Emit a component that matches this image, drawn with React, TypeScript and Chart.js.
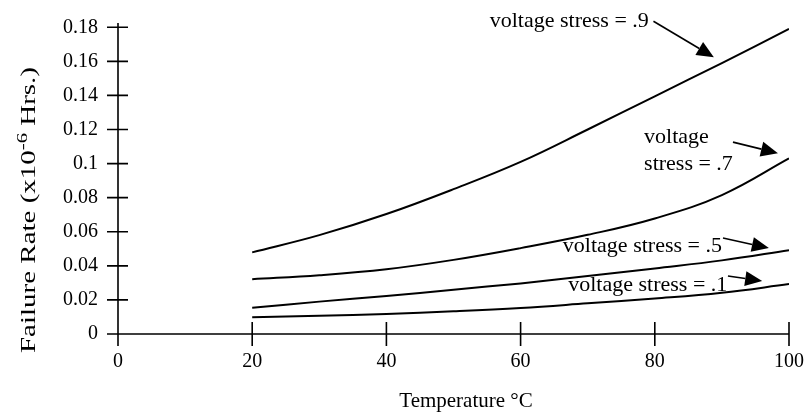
import React, { useEffect, useRef } from 'react';
import { Chart, registerables } from 'chart.js';

Chart.register(...registerables);

// ---- data ----
const temperatures = [20, 30, 40, 50, 60, 70, 80, 90, 100];
const stress09 = [0.0479, 0.058, 0.0704, 0.085, 0.101, 0.12, 0.1395, 0.159, 0.179];
const stress07 = [0.0322, 0.0345, 0.038, 0.0435, 0.0504, 0.0582, 0.0678, 0.0815, 0.103];
const stress05 = [0.0154, 0.019, 0.0223, 0.026, 0.0297, 0.034, 0.0385, 0.0432, 0.0492];
const stress01 = [0.0098, 0.0107, 0.0117, 0.0133, 0.0153, 0.018, 0.0208, 0.0242, 0.0293];

const xTickValues = [0, 20, 40, 60, 80, 100];
const yTickValues = [0, 0.02, 0.04, 0.06, 0.08, 0.1, 0.12, 0.14, 0.16, 0.18];

const xTitle = 'Temperature \u00B0C';
const yTitleMain = 'Failure Rate (x10';
const yTitleSup = '-6';
const yTitleEnd = ' Hrs.)';

// annotation labels (anchors in data units: [temperature, failure rate])
const annotationLines = [
  ['voltage stress = .9'],
  ['voltage', 'stress = .7'],
  ['voltage stress = .5'],
  ['voltage stress = .1'],
];
const annotationAnchors = [
  [55.4, 0.1835],
  [78.4, 0.1155],
  [66.3, 0.0516],
  [67.1, 0.0287],
];
const arrowStarts = [
  [79.8, 0.1835],
  [91.65, 0.1126],
  [90.16, 0.0563],
  [90.9, 0.034],
];
const arrowTips = [
  [88.8, 0.1624],
  [98.35, 0.1061],
  [97.0, 0.0504],
  [96.0, 0.0311],
];

const FONT = '"Liberation Serif", "Times New Roman", serif';

const toPoints = (ys: number[]) => temperatures.map((t, i) => ({ x: t, y: ys[i] }));

const decorPlugin = {
  id: 'decor',
  afterDraw(chart: any) {
    const { ctx, chartArea } = chart;
    const xs = chart.scales.x;
    const ys = chart.scales.y;
    const x0 = xs.getPixelForValue(0);
    const y0 = ys.getPixelForValue(0);
    ctx.save();
    ctx.strokeStyle = '#000';
    ctx.fillStyle = '#000';
    ctx.lineWidth = 1.6;
    // axes
    ctx.beginPath();
    ctx.moveTo(x0, chartArea.top);
    ctx.lineTo(x0, y0);
    ctx.moveTo(x0, y0);
    ctx.lineTo(xs.getPixelForValue(100), y0);
    // y ticks crossing
    yTickValues.forEach((v) => {
      const py = ys.getPixelForValue(v);
      ctx.moveTo(x0 - 11, py);
      ctx.lineTo(x0 + 10, py);
    });
    xTickValues.forEach((v) => {
      const px = xs.getPixelForValue(v);
      ctx.moveTo(px, y0 - 12);
      ctx.lineTo(px, y0 + 12);
    });
    ctx.stroke();

    // annotations
    ctx.font = `22px ${FONT}`;
    ctx.textAlign = 'left';
    ctx.textBaseline = 'middle';
    annotationLines.forEach((lines, i) => {
      const ax = xs.getPixelForValue(annotationAnchors[i][0]);
      const ay = ys.getPixelForValue(annotationAnchors[i][1]);
      lines.forEach((ln, j) => {
        ctx.fillText(ln, ax, ay + j * 27);
      });
      const sx = xs.getPixelForValue(arrowStarts[i][0]);
      const sy = ys.getPixelForValue(arrowStarts[i][1]);
      const tx = xs.getPixelForValue(arrowTips[i][0]);
      const ty = ys.getPixelForValue(arrowTips[i][1]);
      const ang = Math.atan2(ty - sy, tx - sx);
      const hl = 17;
      const hw = 7.5;
      const bx = tx - hl * Math.cos(ang);
      const by = ty - hl * Math.sin(ang);
      ctx.lineWidth = 1.6;
      ctx.beginPath();
      ctx.moveTo(sx, sy);
      ctx.lineTo(bx, by);
      ctx.stroke();
      ctx.beginPath();
      ctx.moveTo(tx, ty);
      ctx.lineTo(bx + hw * Math.sin(ang), by - hw * Math.cos(ang));
      ctx.lineTo(bx - hw * Math.sin(ang), by + hw * Math.cos(ang));
      ctx.closePath();
      ctx.fill();
    });

    // x title
    ctx.font = `21px ${FONT}`;
    ctx.textAlign = 'center';
    ctx.textBaseline = 'middle';
    ctx.fillText(xTitle, 466, 401);

    // y title (rotated, with superscript)
    ctx.translate(28, 210);
    ctx.rotate(-Math.PI / 2);
    const mainFont = `21px ${FONT}`;
    const supFont = `15px ${FONT}`;
    ctx.font = mainFont;
    const w1 = ctx.measureText(yTitleMain).width;
    const w3 = ctx.measureText(yTitleEnd).width;
    ctx.font = supFont;
    const w2 = ctx.measureText(yTitleSup).width;
    const total = w1 + w2 + w3;
    const stretch = 286 / total;
    ctx.scale(stretch, 1);
    let cx = -total / 2;
    ctx.textAlign = 'left';
    ctx.textBaseline = 'alphabetic';
    const base = 7;
    ctx.font = mainFont;
    ctx.fillText(yTitleMain, cx, base);
    cx += w1;
    ctx.font = supFont;
    ctx.fillText(yTitleSup, cx, base - 8);
    cx += w2;
    ctx.font = mainFont;
    ctx.fillText(yTitleEnd, cx, base);
    ctx.restore();
  },
};

export default function App() {
  const ref = useRef<HTMLCanvasElement | null>(null);
  useEffect(() => {
    if (!ref.current) return;
    const lineStyle = {
      borderColor: '#000',
      borderWidth: 2,
      pointRadius: 0,
      fill: false,
      tension: 0.4,
    };
    const chart = new Chart(ref.current, {
      type: 'line',
      data: {
        datasets: [
          { label: 'voltage stress = .9', data: toPoints(stress09), ...lineStyle },
          { label: 'voltage stress = .7', data: toPoints(stress07), ...lineStyle },
          { label: 'voltage stress = .5', data: toPoints(stress05), ...lineStyle },
          { label: 'voltage stress = .1', data: toPoints(stress01), ...lineStyle },
        ],
      },
      options: {
        responsive: false,
        animation: false,
        devicePixelRatio: 1,
        layout: { padding: { top: 23, right: 16, left: 0, bottom: 0 } },
        plugins: {
          legend: { display: false },
          tooltip: { enabled: false },
          title: { display: false },
        },
        scales: {
          x: {
            type: 'linear',
            min: 0,
            max: 100,
            grid: { display: false, drawTicks: false },
            border: { display: false },
            afterBuildTicks: (scale: any) => {
              scale.ticks = xTickValues.map((v) => ({ value: v }));
            },
            afterFit: (scale: any) => {
              scale.height = 80;
              scale.paddingLeft = 0;
              scale.paddingRight = 0;
            },
            ticks: {
              color: '#000',
              font: { family: FONT, size: 20 },
              padding: 16,
              maxRotation: 0,
              callback: (v: any) => String(v),
            },
          },
          y: {
            type: 'linear',
            min: 0,
            max: 0.1825,
            grid: { display: false, drawTicks: false },
            border: { display: false },
            afterBuildTicks: (scale: any) => {
              scale.ticks = yTickValues.map((v) => ({ value: v }));
            },
            afterFit: (scale: any) => {
              scale.width = 118;
              scale.paddingTop = 0;
              scale.paddingBottom = 0;
            },
            ticks: {
              color: '#000',
              font: { family: FONT, size: 20 },
              padding: 20,
              callback: (v: any) => String(Number(Number(v).toFixed(2))),
            },
          },
        },
      },
      plugins: [decorPlugin],
    });
    return () => chart.destroy();
  }, []);
  return (
    <div style={{ position: 'absolute', left: 0, top: 0, width: 805, height: 414, background: '#fff' }}>
      <canvas ref={ref} width={805} height={414} style={{ width: 805, height: 414, display: 'block' }} />
    </div>
  );
}
